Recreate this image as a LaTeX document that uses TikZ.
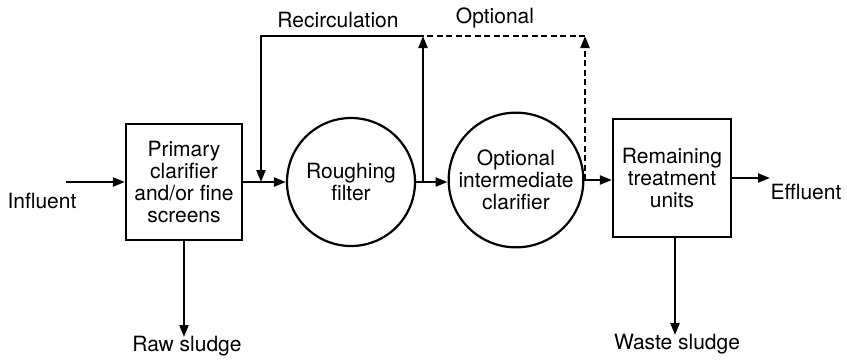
\documentclass[tikz,border=0pt]{standalone}
\usepackage{fontspec}
\setmainfont{TeX Gyre Heros}
\usetikzlibrary{arrows.meta, positioning, calc}

\begin{document}
\begin{tikzpicture}[x=1pt, y=-1pt,
  font=\fontsize{21}{22}\selectfont,
  unit/.style={draw, line width=2.2pt, align=center, inner sep=2pt},
  box/.style={unit, rectangle, minimum width=#1, minimum height=#1},
  tank/.style={unit, circle, minimum size=128pt},
  flow/.style={line width=2.2pt, -{Triangle[length=12pt,width=9pt]}},
  pipe/.style={line width=2.2pt},
  opt/.style={dash pattern=on 6pt off 3.5pt}]
  \useasboundingbox (0,0) rectangle (847,360);

  % process units
  \node[box=116pt] (prim) at (184,182) {Primary\\clarifier\\and/or fine\\screens};
  \node[tank] (rough) at (351,182) {Roughing\\filter};
  \node[tank] (inter) at (516,180) {Optional\\intermediate\\clarifier};
  \node[box=118pt] (rest) at (672,178) {Remaining\\treatment\\units};

  % labels
  \node (influent) at (42,201) {Influent};
  \node (rawsludge) at (187,346) {Raw sludge};
  \node (effluent) at (806,192) {Effluent};
  \node (wastesludge) at (677,344) {Waste sludge};
  \node (recirc) at (338,20) {Recirculation};
  \node (optional) at (495,18) {Optional};

  % junctions
  \coordinate (in) at (66,182);
  \coordinate (j1) at (261,182);
  \coordinate (j2) at (423,182);
  \coordinate (j3) at (585,180);
  \coordinate (t2) at (423,36);
  \coordinate (t3) at (585,36);
  \coordinate (out) at (770,178);
  \coordinate (raw) at (184,337);
  \coordinate (waste) at (675,335);

  % main flow
  \draw[flow] (in) -- (in -| prim.west);
  \draw[flow] (prim.east |- j1) -- (rough.west);
  \draw[flow] (rough.east) -- (inter.west |- j2);
  \draw[flow] (inter.east) -- (inter.east -| rest.west);
  \draw[flow] (rest.east) -- (out);
  \draw[flow] (prim.south) -- (raw);
  \draw[flow] (rest.south -| waste) -- (waste);

  % recirculation
  \draw[flow] (j2) -- (t2);
  \draw[flow] (t2) -| (j1);
  \draw[flow, opt] (j3) -- (t3);
  \draw[pipe, opt] (t3) -- (t2);
\end{tikzpicture}
\end{document}
